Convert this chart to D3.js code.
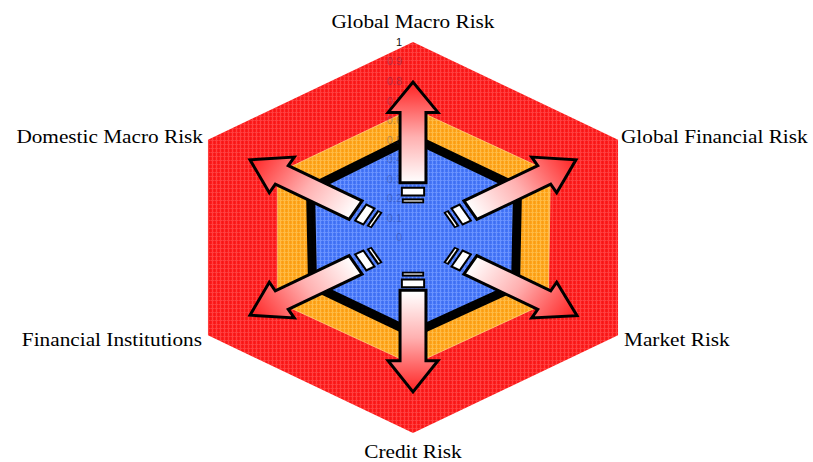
<!DOCTYPE html>
<html>
<head>
<meta charset="utf-8">
<script src="https://cdn.jsdelivr.net/npm/d3@7"></script>
<style>
  html, body { margin: 0; padding: 0; background: #fff; }
  svg { display: block; }
</style>
</head>
<body>
<svg id="chart" width="813" height="462"></svg>
<script>
// Risk categories, clockwise from the top axis
const categories = [
  "Global Macro Risk",
  "Global Financial Risk",
  "Market Risk",
  "Credit Risk",
  "Financial Institutions",
  "Domestic Macro Risk"
];

// Band levels per axis (0..1 scale)
const outerBand = [1, 1, 1, 1, 1, 1];
const middleBand = [0.66, 0.67, 0.66, 0.65, 0.66, 0.66];
const innerBand = [0.51, 0.51, 0.5, 0.49, 0.49, 0.5];

// Arrow extents along each axis (start of shaft, base of head, tip)
const arrowStart = [0.28, 0.28, 0.28, 0.27, 0.28, 0.28];
const arrowHeadBase = [0.64, 0.64, 0.64, 0.63, 0.64, 0.64];
const arrowTip = [0.795, 0.795, 0.8, 0.79, 0.795, 0.795];

// Radial tick labels
const tickValues = [0, 0.1, 0.2, 0.3, 0.4, 0.5, 0.6, 0.7, 0.8, 0.9, 1];

const svg = d3.select("#chart");
const cx = 413, cy = 237.5, R = 195.5, sx = 1.211;

const r = d3.scaleLinear().domain([0, 1]).range([0, R]);
const angle = d3.scaleLinear().domain([0, categories.length]).range([0, 2 * Math.PI]);

// point on axis i at value v (horizontal stretch applied)
function pt(i, v) {
  const a = angle(i);
  return [cx + Math.sin(a) * r(v) * sx, cy - Math.cos(a) * r(v)];
}

// textured fills
const defs = svg.append("defs");
function texture(id, base, light, dark) {
  const p = defs.append("pattern").attr("id", id)
    .attr("patternUnits", "userSpaceOnUse").attr("width", 4).attr("height", 4);
  p.append("rect").attr("width", 4).attr("height", 4).attr("fill", base);
  p.append("rect").attr("width", 4).attr("height", 1).attr("fill", light);
  p.append("rect").attr("width", 1).attr("height", 4).attr("fill", light);
  p.append("rect").attr("x", 2).attr("width", 1).attr("height", 4).attr("fill", dark).attr("opacity", 0.35);
}
texture("texRed", "#ff1c1c", "#ff4040", "#e01010");
texture("texOrange", "#ffa418", "#ffbb45", "#ec9010");
texture("texBlue", "#4576f8", "#6a93ff", "#3560e4");

const line = d3.line().curve(d3.curveLinearClosed);
function poly(vals) { return line(vals.map((v, i) => pt(i, v))); }

svg.append("path").attr("d", poly(outerBand)).attr("fill", "url(#texRed)");
svg.append("path").attr("d", poly(middleBand)).attr("fill", "url(#texOrange)")
  .attr("stroke", "#ffd27a").attr("stroke-width", 0.8);
svg.append("path").attr("d", poly(innerBand)).attr("fill", "url(#texBlue)")
  .attr("stroke", "#000").attr("stroke-width", 9).attr("stroke-linejoin", "miter");

// radial tick labels along the top axis
svg.append("g").selectAll("text").data(tickValues).join("text")
  .attr("x", cx - 11)
  .attr("y", d => cy - r(d))
  .attr("dy", "0.35em")
  .attr("text-anchor", "end")
  .attr("font-family", "Liberation Sans, Arial, sans-serif")
  .attr("font-size", 11)
  .attr("fill", d => d === 1 ? "#111" : "#1a2a6a")
  .attr("fill-opacity", d => d === 1 ? 1 : 0.35)
  .text(d => d);

// gradient along the arrow direction (inner end white, tip red)
const grad = defs.append("linearGradient").attr("id", "arrowGrad")
  .attr("gradientUnits", "userSpaceOnUse")
  .attr("x1", 0).attr("y1", -r(0.28)).attr("x2", 0).attr("y2", -r(0.8));
grad.append("stop").attr("offset", "0%").attr("stop-color", "#ffffff");
grad.append("stop").attr("offset", "45%").attr("stop-color", "#ffb0b0");
grad.append("stop").attr("offset", "100%").attr("stop-color", "#ff1e1e");

const shaftHW = 10.7, headHW = 20.6;
const arrows = svg.append("g");
categories.forEach((c, i) => {
  const deg = angle(i) * 180 / Math.PI;
  const g = arrows.append("g")
    .attr("transform", `translate(${cx},${cy}) scale(${sx},1) rotate(${deg})`);
  const y0 = -r(arrowStart[i]), yb = -r(arrowHeadBase[i]), yt = -r(arrowTip[i]);
  const shape = [
    [-shaftHW, y0], [-shaftHW, yb], [-headHW, yb], [0, yt],
    [headHW, yb], [shaftHW, yb], [shaftHW, y0]
  ];
  g.append("path").attr("d", d3.line()(shape) + "Z")
    .attr("fill", "url(#arrowGrad)")
    .attr("stroke", "#000").attr("stroke-width", 3)
    .attr("stroke-linejoin", "miter")
    .attr("vector-effect", "non-scaling-stroke");
  // the two stubs behind the shaft
  g.append("rect").attr("x", -shaftHW + 1.5).attr("width", 2 * shaftHW - 3)
    .attr("y", -r(0.255)).attr("height", r(0.255) - r(0.215))
    .attr("fill", "#fff").attr("stroke", "#000").attr("stroke-width", 2)
    .attr("vector-effect", "non-scaling-stroke");
  g.append("rect").attr("x", -shaftHW + 1.5).attr("width", 2 * shaftHW - 3)
    .attr("y", -r(0.2)).attr("height", r(0.2) - r(0.175))
    .attr("fill", "#000");
  g.append("rect").attr("x", -shaftHW + 3).attr("width", 2 * shaftHW - 6)
    .attr("y", -r(0.19)).attr("height", 1.2)
    .attr("fill", "#fff");
});

// category labels
const labelPos = [
  { x: 413, y: 28, anchor: "middle" },
  { x: 621, y: 143, anchor: "start" },
  { x: 624, y: 346, anchor: "start" },
  { x: 413, y: 458, anchor: "middle" },
  { x: 202, y: 346, anchor: "end" },
  { x: 203, y: 143, anchor: "end" }
];
svg.append("g").selectAll("text").data(categories).join("text")
  .attr("transform", (d, i) => `translate(${labelPos[i].x},${labelPos[i].y}) scale(1.12,1)`)
  .attr("text-anchor", (d, i) => labelPos[i].anchor)
  .attr("font-family", "Liberation Serif, Times New Roman, serif")
  .attr("font-size", 19)
  .attr("fill", "#000")
  .text(d => d);
</script>
</body>
</html>
